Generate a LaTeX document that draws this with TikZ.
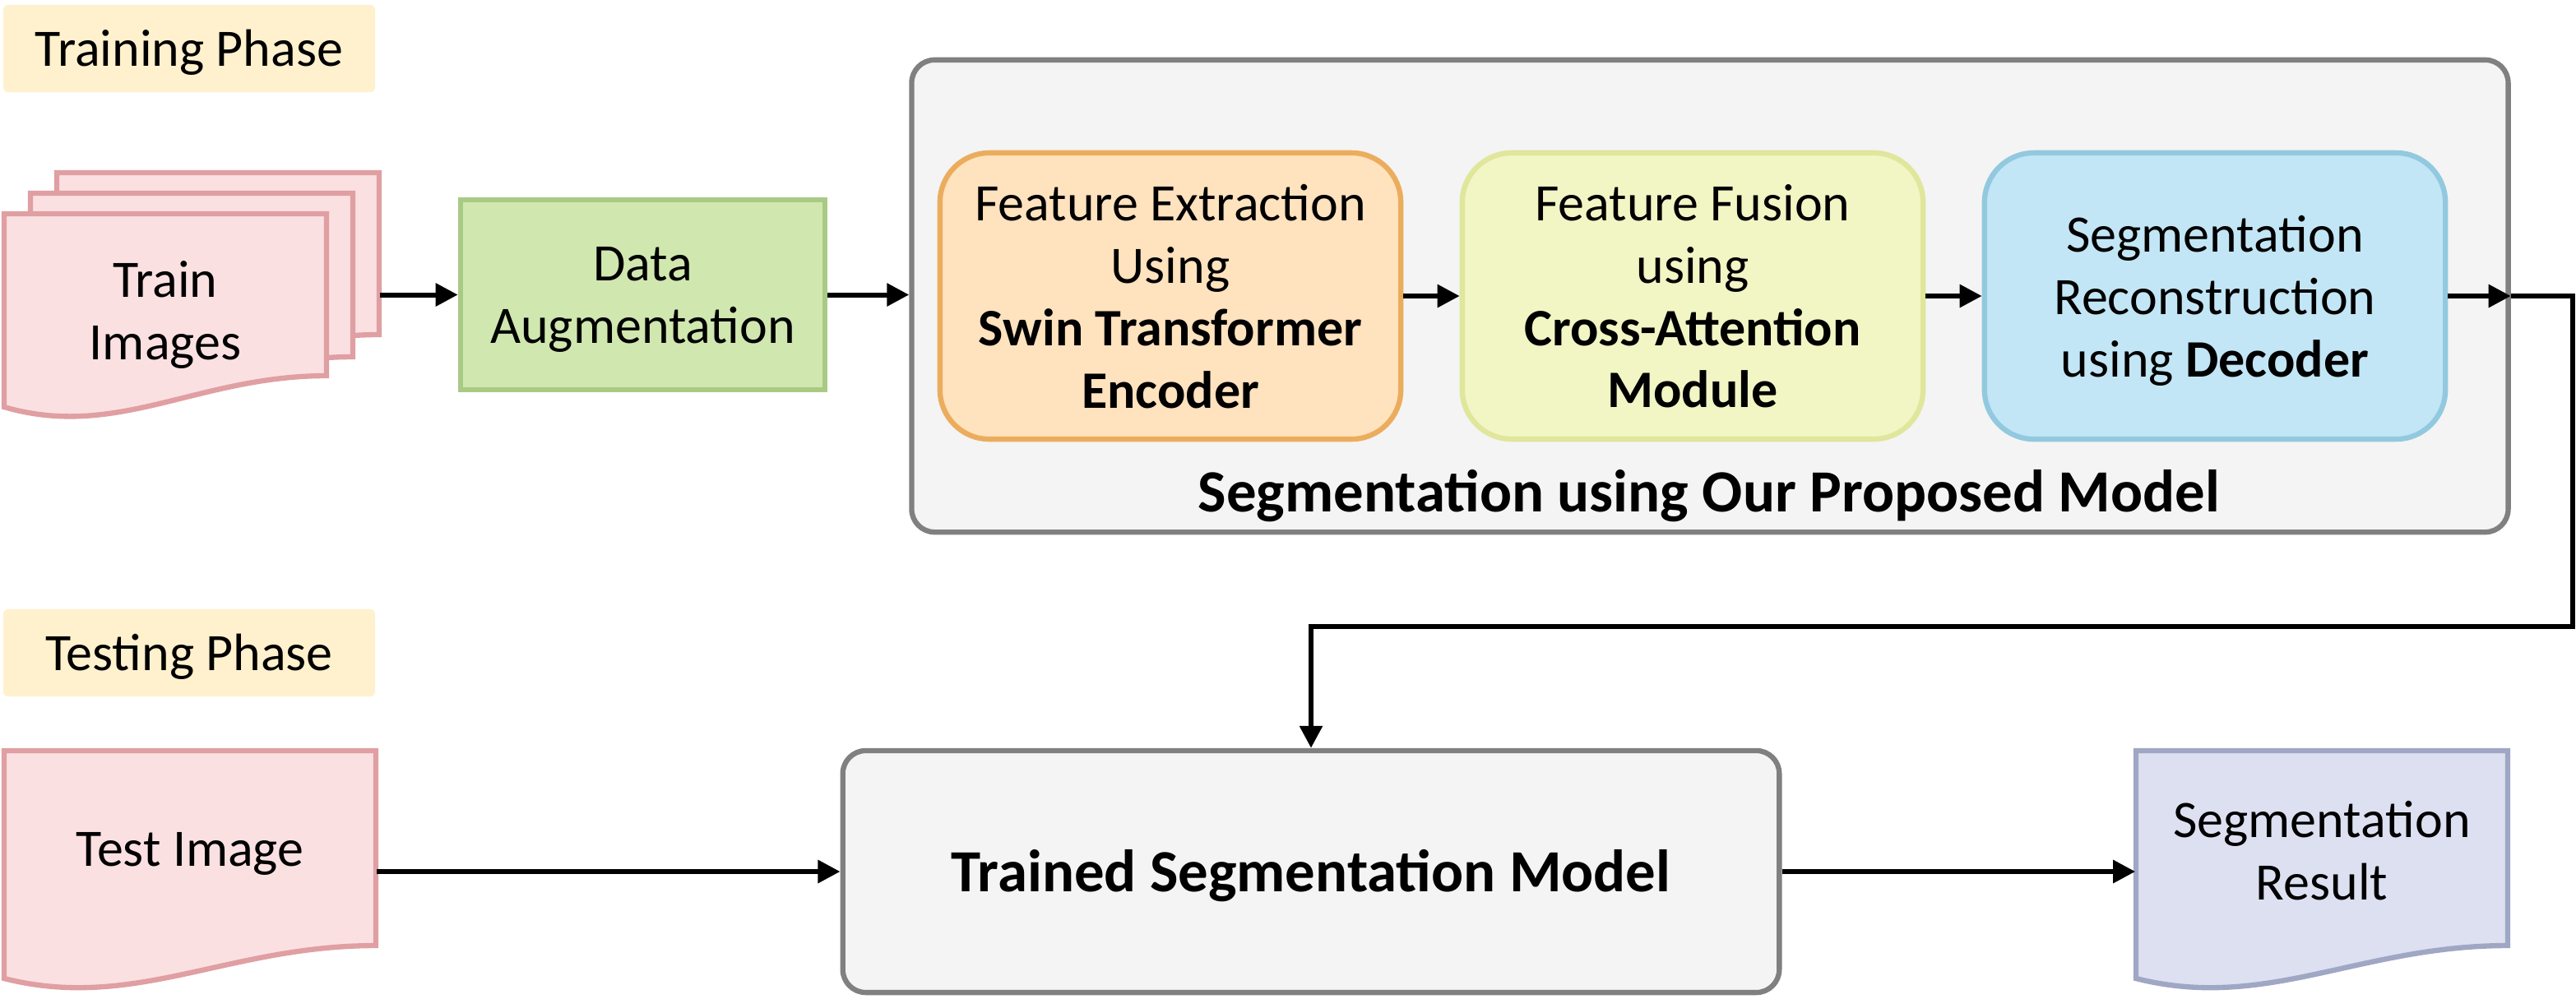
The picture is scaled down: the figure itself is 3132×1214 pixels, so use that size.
\documentclass[tikz,border=0pt]{standalone}
\usepackage{fontspec}
\setmainfont{Carlito}
\usetikzlibrary{arrows.meta,calc}
\definecolor{pinkF}{HTML}{FBE0E2}
\definecolor{pinkD}{HTML}{E09FA2}
\definecolor{greenF}{HTML}{D0E7AF}
\definecolor{greenD}{HTML}{A9CA85}
\definecolor{labelF}{HTML}{FFF1CD}
\definecolor{orangeF}{HTML}{FFE2BE}
\definecolor{orangeD}{HTML}{EBAD5D}
\definecolor{limeF}{HTML}{F2F5C4}
\definecolor{limeD}{HTML}{E0E69B}
\definecolor{blueF}{HTML}{C2E6F5}
\definecolor{blueD}{HTML}{92C9DF}
\definecolor{grayF}{HTML}{F4F4F4}
\definecolor{grayD}{HTML}{808080}
\definecolor{lavF}{HTML}{DCE0F0}
\definecolor{lavD}{HTML}{9FA7C4}
\newcommand\tstrut{\rule[-4pt]{0pt}{20.5pt}}
\newcommand\bstrut{\rule[-4.3pt]{0pt}{22.8pt}}
% document shape: x0, top, width, right-bottom depth, left-bottom depth, style
\newcommand\docshape[6]{%
  \draw[line width=1.8pt,#6] (#1,#2) -- ++(#3,0) -- ++(0,#4)
    .. controls +(-0.4*#3,0) and +(0.35*#3,40) .. (#1,#2+#5) -- cycle;}
\begin{document}
\begin{tikzpicture}[x=0.01cm,y=-0.01cm,
  txt/.style={font=\fontsize{18.2pt}{21.6pt}\selectfont, align=center, inner sep=0pt,
    execute at begin node=\tstrut, execute at end node=\tstrut},
  multi/.style={text depth=-0.5pt},
  bigtxt/.style={font=\fontsize{20.7pt}{24pt}\selectfont\bfseries, align=center, inner sep=0pt},
  box/.style={txt, draw, line width=1.8pt},
  stage/.style={box, multi, rounded corners=0.6cm, minimum width=5.6cm, minimum height=3.48cm},
  docnode/.style={txt, draw=none, minimum width=#1},
  phase/.style={txt, fill=labelF, rounded corners=0.06cm, minimum width=4.52cm, minimum height=1.06cm},
  conn/.style={-{Triangle[length=0.27cm,width=0.27cm]}, line width=1.7pt, black}
]
\useasboundingbox (0,0) rectangle (3132,1214);

% phase labels
\node[phase] (trainphase) at (230,59) {Training Phase};
\node[phase] (testphase) at (230,794) {Testing Phase};

% train images stack
\docshape{69}{210}{392}{197}{235}{draw=pinkD, fill=pinkF}
\node[docnode=3.92cm, minimum height=2.35cm] (tr3) at (265,327.5) {};
\docshape{37}{235}{392}{199}{235}{draw=pinkD, fill=pinkF}
\node[docnode=3.92cm, minimum height=2.35cm] (tr2) at (233,352.5) {};
\docshape{5}{260}{392}{197}{235}{draw=pinkD, fill=pinkF}
\node[docnode=3.92cm, multi, minimum height=2.35cm] (tr) at (201,377.5) {Train\\Images};

% data augmentation
\node[box, multi, draw=greenD, fill=greenF, minimum width=4.43cm, minimum height=2.31cm] (da) at (781.5,358.5) {Data\\Augmentation};

% outer model box
\node[draw=grayD, fill=grayF, line width=1.8pt, rounded corners=0.28cm,
      minimum width=19.4cm, minimum height=5.74cm, inner sep=0pt] (outer) at (2079,360) {};
\node[bigtxt, anchor=base] (title) at (2078,622) {Segmentation using Our Proposed Model};

\node[stage, draw=orangeD, fill=orangeF] (fe) at (1423,360)
  {Feature Extraction\\Using\\\textbf{Swin Transformer}\\\textbf{Encoder}};
\node[stage, draw=limeD, fill=limeF] (ff) at (2058,360)
  {Feature Fusion\\using\\\textbf{Cross-Attention}\\\textbf{Module}};
\node[stage, draw=blueD, fill=blueF] (sr) at (2693,360)
  {Segmentation\\Reconstruction\\using \textbf{Decoder}};

% test image
\docshape{5}{913}{452}{237}{277}{draw=pinkD, fill=pinkF}
\node[docnode=4.52cm, minimum height=2.37cm] (te) at (231,1031.5) {Test Image};

% trained model
\node[draw=grayD, fill=grayF, line width=1.8pt, rounded corners=0.28cm,
      minimum width=11.38cm, minimum height=2.94cm, inner sep=0pt,
      font=\fontsize{20.7pt}{24pt}\selectfont\bfseries,
      execute at begin node=\bstrut] (tsm) at (1594,1060) {Trained Segmentation Model};

% segmentation result
\docshape{2597}{913}{452}{237}{277}{draw=lavD, fill=lavF}
\node[docnode=4.52cm, multi, minimum height=2.37cm] (res) at (2823,1034) {Segmentation\\Result};

% connectors
\coordinate (bend) at (3128,762);
\draw[conn] (tr3.east |- da.west) -- (da.west);
\draw[conn] (da.east) -- (da.east -| outer.west);
\draw[conn] (fe.east) -- (ff.west);
\draw[conn] (ff.east) -- (sr.west);
\draw[conn] (sr.east) -- (sr.east -| outer.east);
\draw[conn] (sr.east -| outer.east) -- (sr.east -| bend) -- (bend) -- (bend -| tsm.north) -- (tsm.north);
\draw[conn] (te.east |- tsm.west) -- (tsm.west);
\draw[conn] (tsm.east) -- (res.west |- tsm.east);
\end{tikzpicture}
\end{document}
